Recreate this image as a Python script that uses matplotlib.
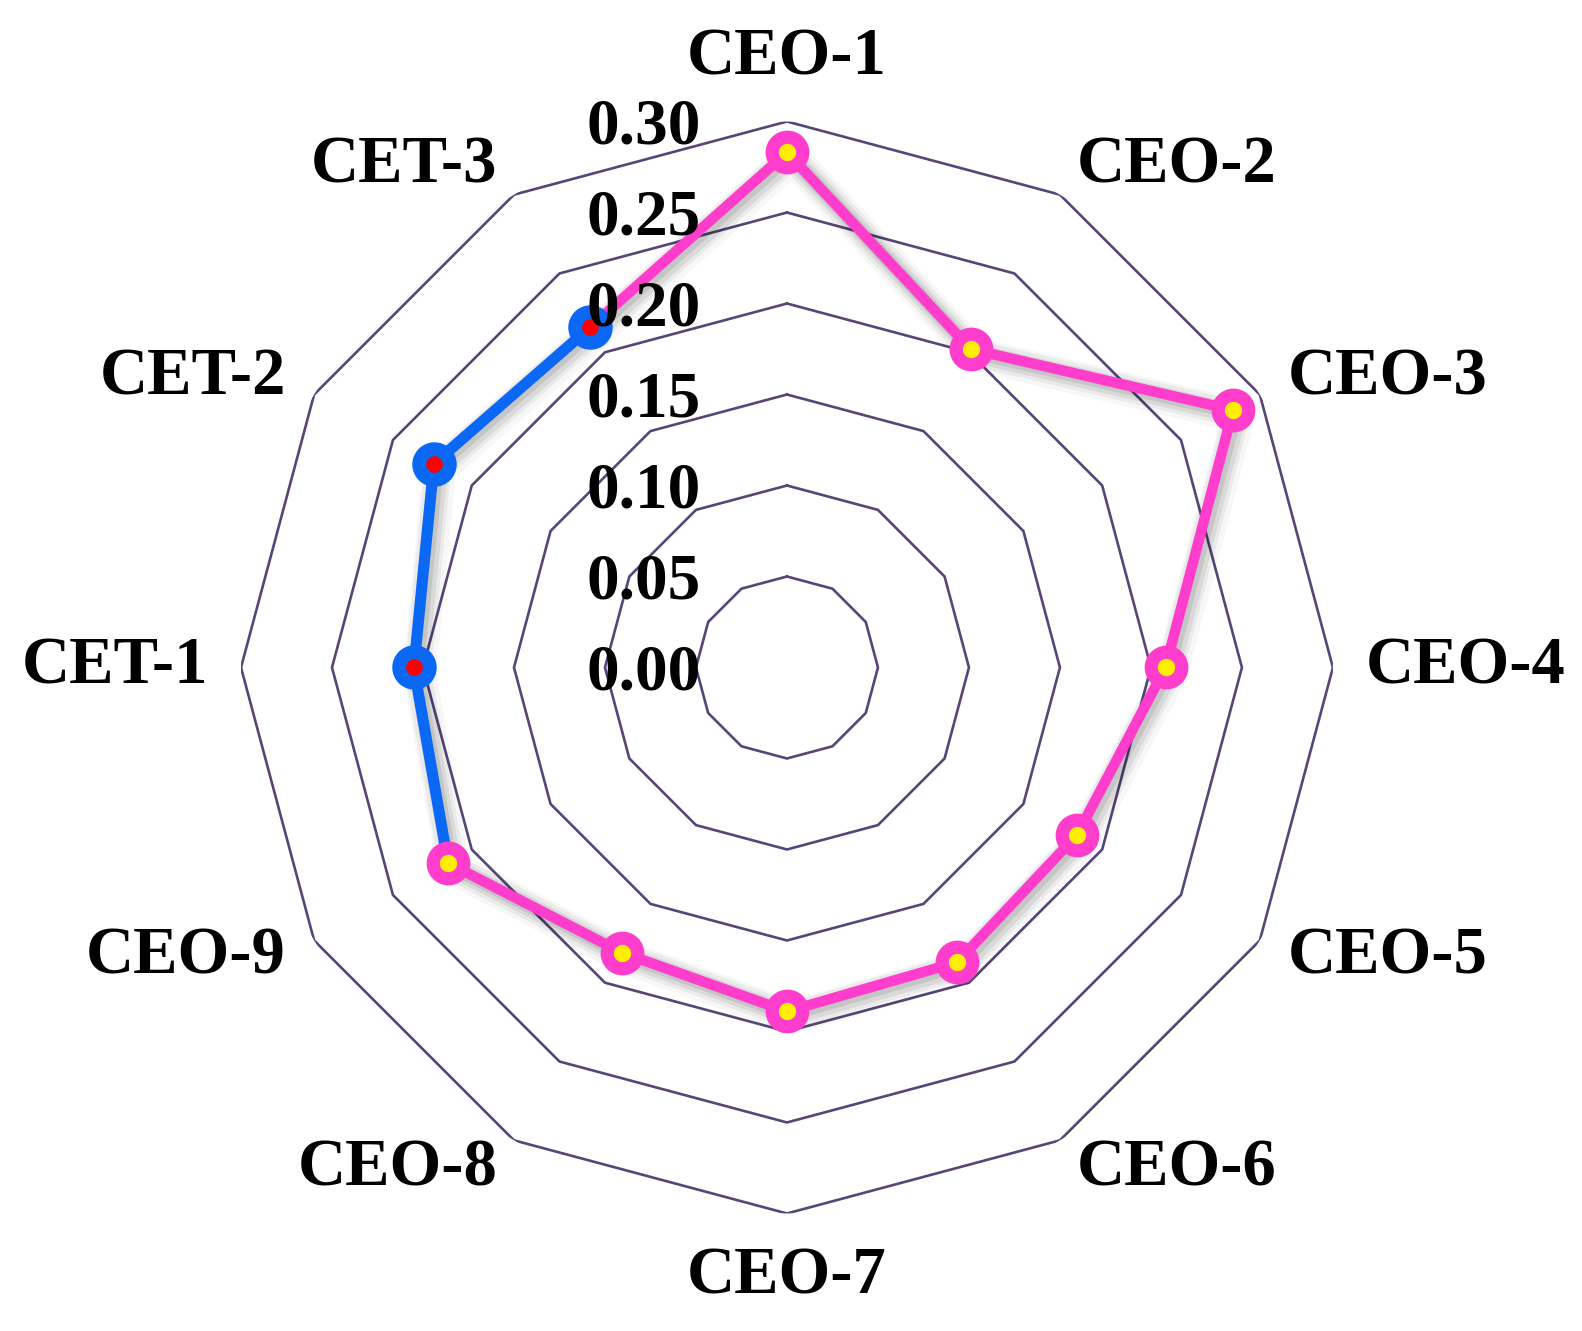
import numpy as np
import matplotlib
matplotlib.use("Agg")
import matplotlib.pyplot as plt
import matplotlib.patheffects as pe

plt.rcParams['font.family'] = ['Liberation Serif', 'DejaVu Serif']
plt.rcParams['font.weight'] = 'bold'

categories = ["CEO-1", "CEO-2", "CEO-3", "CEO-4", "CEO-5", "CEO-6",
              "CEO-7", "CEO-8", "CEO-9", "CET-1", "CET-2", "CET-3"]
ceo_values = [0.283, 0.202, 0.283, 0.208, 0.184, 0.187, 0.189, 0.181, 0.215]
cet_values = [0.205, 0.224, 0.216]
ticks = [0.00, 0.05, 0.10, 0.15, 0.20, 0.25, 0.30]

n = len(categories)
angles = np.linspace(0, 2 * np.pi, n, endpoint=False)

fig = plt.figure(figsize=(15.82, 13.31), dpi=100)
ax = fig.add_axes([0.1523, 0.0883, 0.6903, 0.8204], projection='polar')
ax.set_theta_zero_location('N')
ax.set_theta_direction(-1)
ax.set_ylim(0, 0.30)
ax.grid(False)
ax.spines['polar'].set_visible(False)
ax.set_xticks([])
ax.set_yticks([])

# dodecagon grid rings
ring_t = np.append(angles, angles[0])
for t in ticks[1:]:
    ax.plot(ring_t, [t] * len(ring_t), color='#574578', lw=1.9, zorder=1)

shadow = [pe.Stroke(linewidth=24, foreground='#000000', alpha=0.03, offset=(4, -4)),
          pe.Stroke(linewidth=19, foreground='#000000', alpha=0.05, offset=(3, -3)),
          pe.Stroke(linewidth=14, foreground='#000000', alpha=0.07, offset=(3, -3)),
          pe.Stroke(linewidth=10, foreground='#000000', alpha=0.09, offset=(2, -2)),
          pe.Normal()]

pink = '#ff3dcc'
blue = '#0a68f5'

# blue series: CEO-9 -> CET-1 -> CET-2 -> CET-3
blue_t = list(angles[8:12])
blue_r = [ceo_values[8]] + cet_values
ax.plot(blue_t, blue_r, color=blue, lw=8, zorder=3, solid_capstyle='round',
        path_effects=shadow)
ax.plot(angles[9:12], cet_values, 'o', color=blue, ms=22, mfc='#ff0000',
        mec=blue, mew=10, zorder=5)

# pink series: CET-3 -> CEO-1 ... CEO-9
pink_t = [angles[11] - 2 * np.pi] + list(angles[:9])
pink_r = [cet_values[2]] + ceo_values
ax.plot(pink_t, pink_r, color=pink, lw=7.5, zorder=4, solid_capstyle='round',
        path_effects=shadow)
ax.plot(angles[:9], ceo_values, 'o', color=pink, ms=22, mfc='#ffee00',
        mec=pink, mew=9.5, zorder=6)

# radial tick labels
for t in ticks:
    ax.annotate(f"{t:.2f}", xy=(0, t), xytext=(-62, -4), textcoords='offset points',
                ha='right', va='center', fontsize=47, fontweight='bold',
                color='black', zorder=7, annotation_clip=False)

# category labels
for a, lab in zip(angles, categories):
    s, c = np.sin(a), np.cos(a)
    ha = 'left' if s > 0.1 else ('right' if s < -0.1 else 'center')
    va = 'bottom' if c > 0.9 else ('top' if c < -0.9 else 'center')
    ax.text(a, 0.318, lab, ha=ha, va=va, fontsize=48, fontweight='bold',
            color='black')

fig.savefig("out.png", dpi=100, facecolor='white')
